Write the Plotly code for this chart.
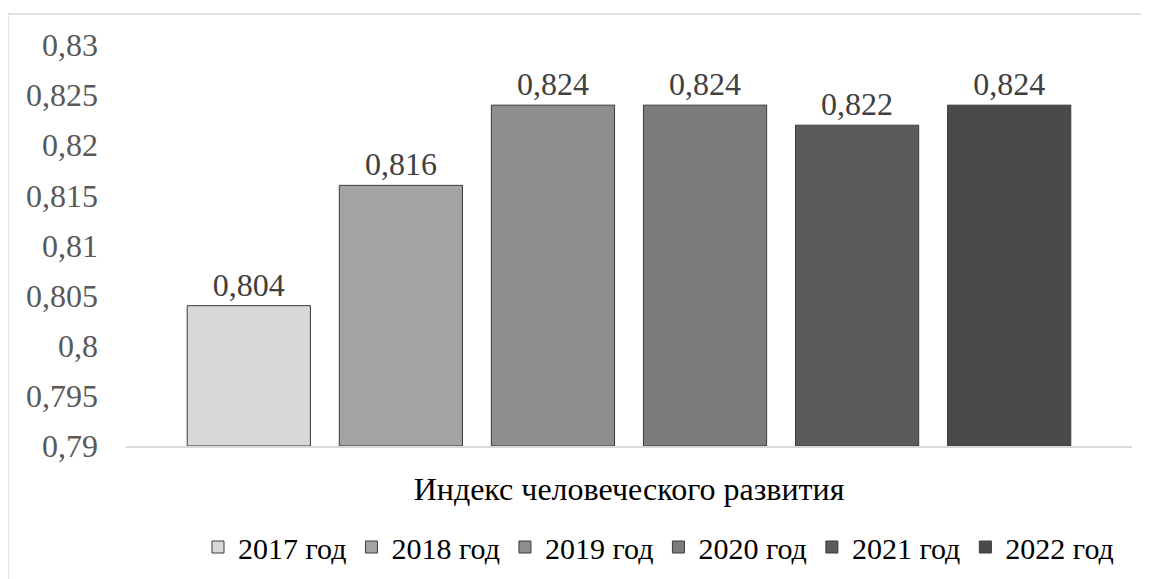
import plotly.graph_objects as go

category = "Индекс человеческого развития"
years = ["2017 год", "2018 год", "2019 год", "2020 год", "2021 год", "2022 год"]
values = [0.804, 0.816, 0.824, 0.824, 0.822, 0.824]
labels = ["0,804", "0,816", "0,824", "0,824", "0,822", "0,824"]
colors = ["#d8d8d8", "#a3a3a3", "#8e8e8e", "#7c7c7c", "#5b5b5b", "#4a4a4a"]
y_base = 0.79
tick_vals = [0.79, 0.795, 0.80, 0.805, 0.81, 0.815, 0.82, 0.825, 0.83]
tick_text = ["0,79", "0,795", "0,8", "0,805", "0,81", "0,815", "0,82", "0,825", "0,83"]

FONT = "Liberation Serif, Times New Roman, serif"
FS = 32

fig = go.Figure()
for name, v, lab, c in zip(years, values, labels, colors):
    fig.add_trace(go.Bar(
        x=[category], y=[round(v - y_base, 6)], base=y_base, name=name,
        text=[lab], textposition="outside", cliponaxis=False,
        textfont=dict(family=FONT, size=FS, color="#404040"),
        marker=dict(color=c, line=dict(color="#3a3a3a", width=1)),
    ))

W, H = 1149, 579
L, R, T, B = 118, 25, 37, 141
pw, ph = W - L - R, H - T - B

fig.update_layout(
    width=W, height=H,
    margin=dict(l=L, r=R, t=T, b=B, autoexpand=False),
    paper_bgcolor="white", plot_bgcolor="white",
    barmode="group", bargap=0.093, bargroupgap=0.19,
    font=dict(family=FONT, size=FS, color="#595959"),
    showlegend=True,
    legend=dict(orientation="h", x=(190 - L) / pw, xanchor="left",
                y=-(539 - (T + ph)) / ph, yanchor="middle",
                font=dict(family=FONT, size=30, color="#000000"),
                itemwidth=30, tracegroupgap=0),
    xaxis=dict(showline=True, linecolor="#d9d9d9", linewidth=1.5, ticks="",
               tickfont=dict(family=FONT, size=FS, color="#000000"),
               ticklabelstandoff=14),
    yaxis=dict(range=[0.79, 0.83], showgrid=False, zeroline=False, showline=False,
               tickvals=tick_vals, ticktext=tick_text, ticklabelstandoff=27,
               tickfont=dict(family=FONT, size=FS, color="#595959")),
    shapes=[dict(type="rect", xref="paper", yref="paper",
                 x0=(0 - L) / pw, x1=(1170 - L) / pw, y0=-(600 - (T + ph)) / ph, y1=((T + ph) - 6) / ph,
                 line=dict(color="#d9d9d9", width=1.5), fillcolor="rgba(0,0,0,0)", layer="below")],
)
fig.write_html("out.html")
